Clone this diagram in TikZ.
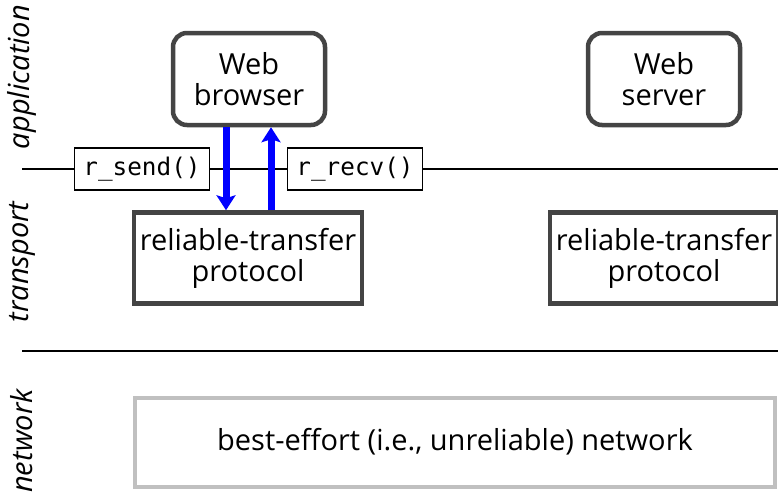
\documentclass[tikz,border=0pt]{standalone}
\usepackage{fontspec}
\setmainfont{Open Sans}
\setmonofont{DejaVu Sans Mono}
\usetikzlibrary{positioning,arrows.meta}
\definecolor{boxgray}{HTML}{444444}
\definecolor{netgray}{HTML}{C0C0C0}

\begin{document}
\begin{tikzpicture}[x=1pt, y=-1pt,
    every node/.style={font=\fontsize{29}{31}\selectfont, align=center, inner sep=0pt},
    app/.style={draw=boxgray, line width=4.5pt, rounded corners=14pt,
                minimum width=152pt, minimum height=92pt},
    proto/.style={draw=boxgray, line width=4.5pt,
                  minimum width=228pt, minimum height=91pt},
    call/.style={draw, fill=white, line width=1.3pt, minimum width=135pt,
                 minimum height=42pt, font=\fontsize{24.3}{28}\selectfont\ttfamily},
    layer/.style={rotate=90, font=\fontsize{29}{31}\selectfont\itshape},
    flow/.style={blue, line width=7pt, -{Stealth[length=15pt, width=19pt, inset=3pt]}}]
    \useasboundingbox (0,0) rectangle (778,493);
    % layer boundaries
    \coordinate (topl) at (22, 169);
    \coordinate (topr) at (778, 169);
    \coordinate (botl) at (22, 351);
    \coordinate (botr) at (778, 351);
    \draw[line width=1.8pt] (topl) -- (topr);
    \draw[line width=1.8pt] (botl) -- (botr);
    % layer names
    \node[layer] (lapp)  at (22, 77)  {application};
    \node[layer] (ltrn)  at (22, 262) {transport};
    \node[layer] (lnet)  at (22, 441) {network};
    % boxes
    \node[app]   (browser) at (249, 79)  {Web\\browser};
    \node[app]   (server)  at (664, 79)  {Web\\server};
    \node[call]  (send)    at (142, 169) {r\_send()};
    \node[call]  (recv)    at (355, 169) {r\_recv()};
    \node[proto] (rtpl)    at (248, 258) {reliable-transfer\\protocol};
    \node[proto] (rtpr)    at (664, 258) {reliable-transfer\\protocol};
    \node[draw=netgray, line width=4pt, minimum width=640pt, minimum height=89pt]
        (net) at (455, 442) {best-effort (i.e., unreliable) network};
    % calls
    \draw[flow] ([xshift=-23pt]browser.south) -- ([xshift=-22pt]rtpl.north);
    \draw[flow] ([xshift=23pt]rtpl.north) -- ([xshift=22pt]browser.south);
\end{tikzpicture}
\end{document}
